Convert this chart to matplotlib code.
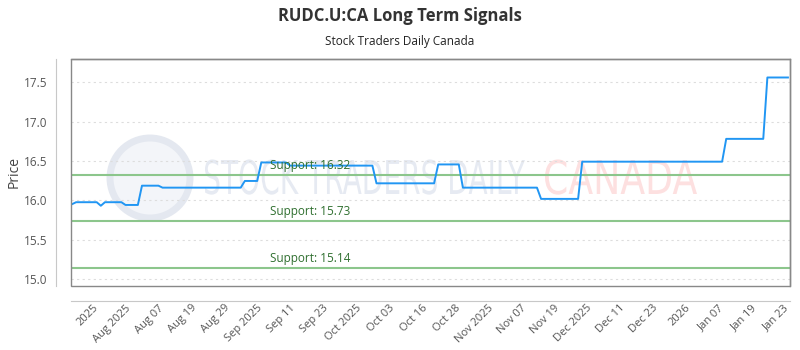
import matplotlib
matplotlib.use("Agg")
import matplotlib.pyplot as plt
from matplotlib.patches import Rectangle, Ellipse, PathPatch
from matplotlib.textpath import TextPath
from matplotlib.font_manager import FontProperties
from matplotlib.transforms import Affine2D, IdentityTransform
import numpy as np

title = "RUDC.U:CA Long Term Signals"
subtitle = "Stock Traders Daily Canada"

prices = [
    15.95,
    15.975, 15.975, 15.975, 15.975, 15.975,
    15.975, 15.93,
    15.975, 15.975, 15.975, 15.975, 15.975,
    15.94, 15.94, 15.94, 15.94,
    16.185, 16.185, 16.185, 16.185, 16.185,
    16.16, 16.16, 16.16, 16.16, 16.16, 16.16, 16.16, 16.16, 16.16, 16.16,
    16.16, 16.16, 16.16, 16.16, 16.16, 16.16, 16.16, 16.16, 16.16, 16.16,
    16.245, 16.245, 16.245, 16.245,
    16.48, 16.48, 16.48, 16.48, 16.48, 16.48, 16.48,
    16.44, 16.44, 16.44, 16.44, 16.44, 16.44, 16.44, 16.44, 16.44, 16.44,
    16.44, 16.44, 16.44, 16.44, 16.44, 16.44, 16.44, 16.44, 16.44, 16.44, 16.44,
    16.215, 16.215, 16.215, 16.215, 16.215, 16.215, 16.215, 16.215,
    16.215, 16.215, 16.215, 16.215, 16.215, 16.215, 16.215,
    16.455, 16.455, 16.455, 16.455, 16.455, 16.455,
    16.16, 16.16, 16.16, 16.16, 16.16, 16.16, 16.16, 16.16, 16.16, 16.16,
    16.16, 16.16, 16.16, 16.16, 16.16, 16.16, 16.16, 16.16, 16.16,
    16.017, 16.017, 16.017, 16.017, 16.017, 16.017, 16.017, 16.017, 16.017, 16.017,
    16.49, 16.49, 16.49, 16.49, 16.49, 16.49, 16.49, 16.49, 16.49, 16.49,
    16.49, 16.49, 16.49, 16.49, 16.49, 16.49, 16.49, 16.49, 16.49, 16.49,
    16.49, 16.49, 16.49, 16.49, 16.49, 16.49, 16.49, 16.49, 16.49, 16.49,
    16.49, 16.49, 16.49, 16.49, 16.49,
    16.78, 16.78, 16.78, 16.78, 16.78, 16.78, 16.78, 16.78, 16.78, 16.78,
    17.56, 17.56, 17.56, 17.56, 17.56, 17.56,
]

tick_labels = ["2025", "Aug 2025", "Aug 07", "Aug 19", "Aug 29", "Sep 2025",
               "Sep 11", "Sep 23", "Oct 2025", "Oct 03", "Oct 16", "Oct 28",
               "Nov 2025", "Nov 07", "Nov 19", "Dec 2025", "Dec 11", "Dec 23",
               "2026", "Jan 07", "Jan 19", "Jan 23"]
tick_index = [5, 13, 21, 29, 37, 45, 53, 61, 69, 77, 85, 93, 101, 109, 117,
              125, 133, 141, 149, 157, 165, 173]

support_levels = [16.32, 15.73, 15.14]
support_labels = ["Support: 16.32", "Support: 15.73", "Support: 15.14"]
support_label_x = 48

yticks = [15.0, 15.5, 16.0, 16.5, 17.0, 17.5]

plt.rcParams['font.family'] = ['Open Sans', 'DejaVu Sans']

W, H = 800, 350
fig = plt.figure(figsize=(8, 3.5), dpi=100)
ax = fig.add_axes([71/W, 1-286/H, (790-71)/W, (286-59)/H])

x = np.arange(len(prices))

# spines first (set_position resets ticks)
for s in ['top', 'right']:
    ax.spines[s].set_color('#888888')
    ax.spines[s].set_linewidth(1)
ax.spines['left'].set_position(('outward', 11))
ax.spines['bottom'].set_position(('outward', 11))
ax.spines['left'].set_color('#c8c8c8')
ax.spines['bottom'].set_color('#c8c8c8')

# watermark
def wm_text(s, x0, ybase, capheight, width, color):
    fp = FontProperties(family='DejaVu Sans')
    tp = TextPath((0, 0), s, size=100, prop=fp)
    ext = tp.get_extents()
    sx = width / ext.width
    sy = capheight / 73.0
    tr = Affine2D().translate(-ext.x0, 0).scale(sx, sy).translate(x0, H - ybase)
    p = PathPatch(tr.transform_path(tp), facecolor=color, edgecolor='none',
                  transform=IdentityTransform(), zorder=0)
    ax.add_artist(p)

wm_text("STOCK TRADERS DAILY", 205, 194, 34, 320, '#e6eaf2')
wm_text("CANADA", 545, 194, 34, 152, '#fde0e0')
ell = Ellipse((150/W, 1-178/H), 80/W, 80/H, transform=fig.transFigure,
              facecolor='#f3f5f9', edgecolor='#e4e8f0', lw=5, zorder=0)
ax.add_artist(ell)

for lvl in support_levels:
    ax.axhline(lvl, color='#8cc68c', lw=1.5, zorder=2)
for lvl, lab in zip(support_levels, support_labels):
    ax.text(support_label_x, lvl + 0.04, lab, color='#2f6f2f', fontsize=8.5,
            ha='left', va='bottom', zorder=4)

ax.plot(x, prices, color='#2196f3', lw=1.4, zorder=3)

ax.set_xlim(-0.25, len(prices) - 1 + 0.5)
ax.set_ylim(14.91, 17.795)

for yv in yticks:
    ax.axhline(yv, color='#dddddd', lw=0.8, ls=(0, (2, 3)), zorder=1)

ax.set_yticks(yticks)
ax.set_yticklabels([f"{v:.1f}" for v in yticks])
ax.set_xticks(tick_index)
ax.set_xticklabels(tick_labels, rotation=45, ha='right', va='top',
                   rotation_mode='anchor')

ax.tick_params(axis='y', length=0, colors='#555555', labelsize=8.5, pad=6)
ax.tick_params(axis='x', length=0, colors='#555555', labelsize=8, pad=1)

box = Rectangle((0, 0), 1, 1, transform=ax.transAxes, fill=False,
                edgecolor='#888888', lw=1, clip_on=False, zorder=5)
ax.add_patch(box)

ax.set_ylabel("Price", color='#444444', fontsize=10)
ax.yaxis.set_label_coords((22 - 71) / (790 - 71), 0.5)

fig.text(0.5, 1-16/H, title, ha='center', va='center', fontsize=12,
         fontweight='bold', color='#333333')
fig.text(0.5, 1-41/H, subtitle, ha='center', va='center', fontsize=8.5,
         color='#222222')

fig.savefig("out.png", dpi=100)
